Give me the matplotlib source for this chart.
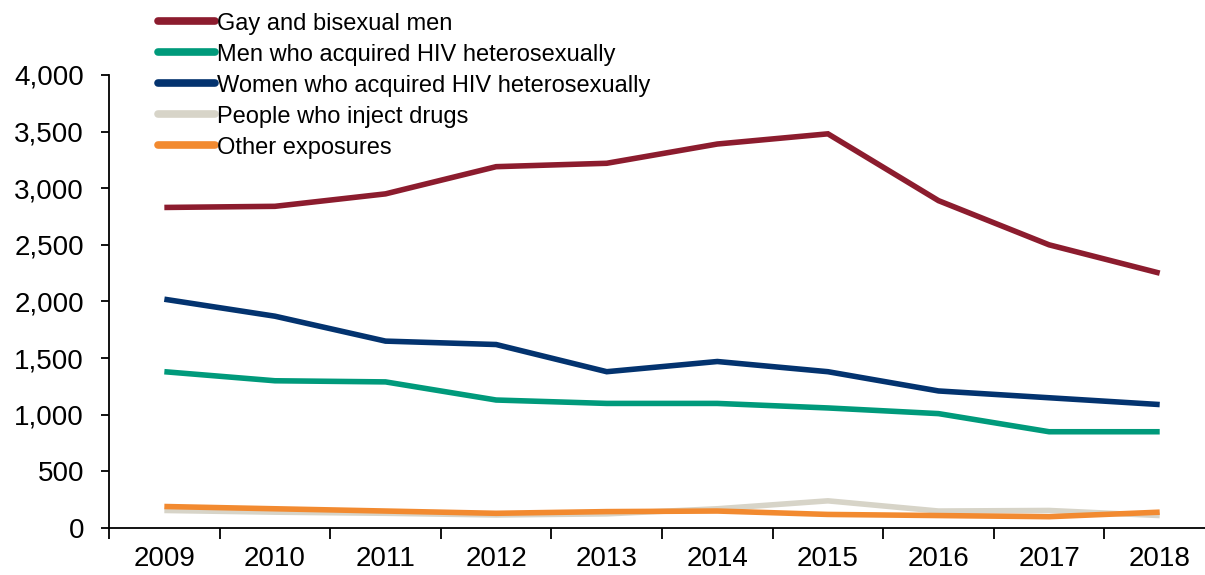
import matplotlib.pyplot as plt
from matplotlib.ticker import FuncFormatter, FixedLocator
from matplotlib.lines import Line2D
import numpy as np

plt.rcParams['font.family'] = ['Liberation Sans', 'DejaVu Sans']

years = ['2009', '2010', '2011', '2012', '2013', '2014', '2015', '2016', '2017', '2018']

gay_bi_men = [2830, 2840, 2950, 3190, 3220, 3390, 3480, 2890, 2500, 2250]
men_hetero = [1380, 1300, 1290, 1130, 1100, 1100, 1060, 1010, 850, 850]
women_hetero = [2020, 1870, 1650, 1620, 1380, 1470, 1380, 1210, 1150, 1090]
inject_drugs = [155, 140, 130, 115, 125, 170, 240, 150, 155, 110]
other = [190, 170, 150, 130, 145, 150, 120, 110, 100, 140]

series = [
    ('Gay and bisexual men', gay_bi_men, '#8c1c2e'),
    ('Men who acquired HIV heterosexually', men_hetero, '#009a7b'),
    ('Women who acquired HIV heterosexually', women_hetero, '#03336f'),
    ('People who inject drugs', inject_drugs, '#d7d4c8'),
    ('Other exposures', other, '#f28a30'),
]

fig = plt.figure(figsize=(12.05, 5.75), dpi=100)
ax = fig.add_axes([0.0905, 0.0817, 1.0083 - 0.0905, 0.788])

x = np.arange(len(years))
# grey first so the orange line sits on top of it
for i in [3, 4, 1, 2, 0]:
    name, vals, col = series[i]
    ax.plot(x, vals, color=col, lw=4, solid_joinstyle='miter', solid_capstyle='butt')

ax.set_xlim(-0.5, 9.5)
ax.set_ylim(0, 4000)
ax.set_yticks(range(0, 4001, 500))
ax.yaxis.set_major_formatter(FuncFormatter(lambda v, p: f'{int(v):,}'))
ax.set_xticks(x)
ax.set_xticklabels(years)
ax.xaxis.set_minor_locator(FixedLocator(np.arange(-0.5, 10, 1)))
ax.tick_params(axis='x', which='major', length=0, labelsize=20, pad=13)
ax.tick_params(axis='x', which='minor', length=8, width=1.3, direction='out')
ax.tick_params(axis='y', length=6, width=1.3, labelsize=20, pad=12)

for s in ['top', 'right']:
    ax.spines[s].set_visible(False)
for s in ['left', 'bottom']:
    ax.spines[s].set_linewidth(1.3)

handles = [Line2D([], [], color=s[2], lw=5.5, solid_capstyle='round') for s in series]
fig.legend(handles, [s[0] for s in series],
           loc='upper left', bbox_to_anchor=(0.131, 0.978), frameon=False,
           fontsize=17, handlelength=2.4, handletextpad=0.12,
           labelspacing=0.38, borderaxespad=0, borderpad=0)

fig.savefig('out.png', dpi=100)
